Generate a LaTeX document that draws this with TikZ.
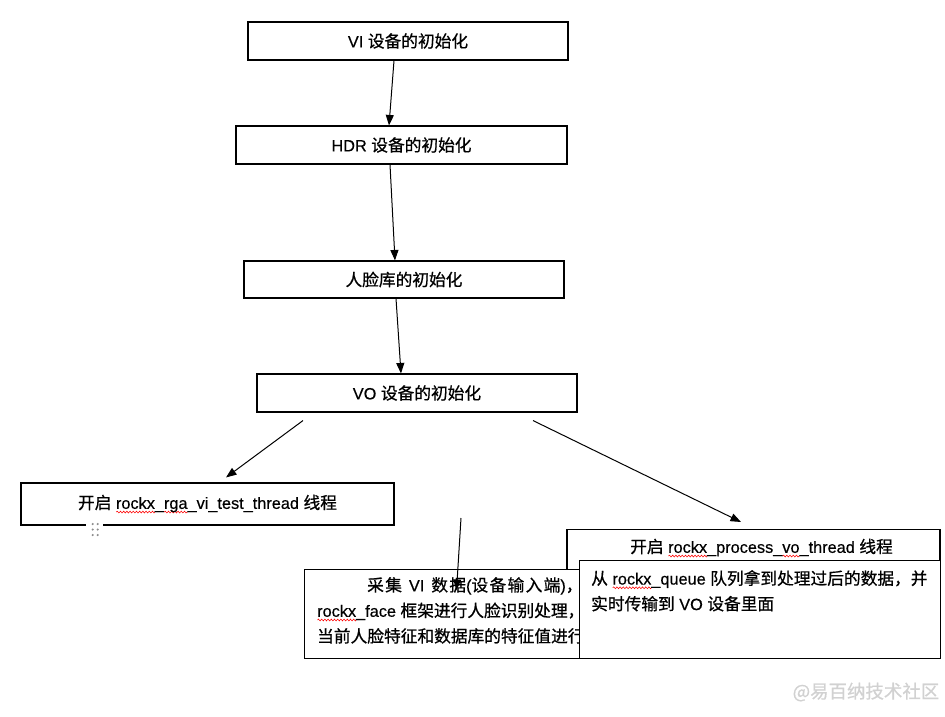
\documentclass[tikz,border=0pt]{standalone}
\usepackage{fontspec}
\setmainfont{Liberation Sans}[FakeBold=0.4]
\newfontfamily\zh{Noto Sans CJK SC}[Scale=1.025, FakeBold=0.7]
\newfontfamily\zhwide{Noto Sans CJK SC}[Scale=1.025, FakeBold=0.7, LetterSpace=8]
\usetikzlibrary{arrows.meta,positioning,calc,decorations.pathmorphing}
\newcommand\redwave[1]{\setbox0\hbox{#1}\rlap{\tikz[baseline=0pt]\draw[red, line width=0.55pt, fill=none,
  decorate, decoration={snake, amplitude=0.9pt, segment length=3.2pt}] (0pt,-3.2pt) -- (\the\wd0,-3.2pt);}\box0}
\tikzset{
  box/.style={draw=black, line width=1.1pt, fill=white, inner sep=0pt},
  txt/.style={font=\fontsize{16.3}{25.5}\selectfont, inner sep=0pt},
  arrow/.style={-{Triangle[length=10.5pt,width=8pt]}, line width=1pt},
}

\begin{document}
\begin{tikzpicture}[x=1pt,y=-1pt]
  \useasboundingbox (0,0) rectangle (945,716);
  % initialisation chain
  \node[box, txt, minimum width=320, minimum height=38] (vi) at (408,41) {VI {\zh 设备的初始化}};
  \node[box, txt, minimum width=331, minimum height=38] (hdr) at (401.5,145) {HDR {\zh 设备的初始化}};
  \node[box, txt, minimum width=320, minimum height=37] (face) at (404,279.5) {\zh 人脸库的初始化};
  \node[box, txt, minimum width=320, minimum height=38] (vo) at (417,393) {VO {\zh 设备的初始化}};
  % the two threads
  \node[box, txt, minimum width=373, minimum height=42] (rga) at (207.5,504)
    {{\zh 开启} \redwave{rockx}\_\redwave{rga}\_vi\_test\_thread {\zh 线程}};
  \node[box, minimum width=373, minimum height=110, anchor=north] (proc) at (753.5,529) {};
  \node[txt] (proctxt) at (761.5,548)
    {{\zh 开启} \redwave{rockx}\_process\_\redwave{vo}\_thread {\zh 线程}};
  \node[box, minimum width=396, minimum height=89, anchor=north west] (data) at (304,569) {};
  \node[txt, anchor=north west, align=left] (datatxt) at (317,577)
    {\hspace*{50pt}{\zhwide 采集}\hspace{7pt}VI\hspace{7pt}{\zhwide 数据}({\zhwide 设备输入端}){\zh ，}\\
     \redwave{rockx}\_face {\zh 框架进行人脸识别处理，}\\
     {\zh 当前人脸特征和数据库的特征值进行}};
  \node[box, minimum width=361, minimum height=98, anchor=north west] (queue) at (579,560) {};
  \node[txt, anchor=north west, align=left] (queuetxt) at (591,570)
    {{\zh 从} \redwave{rockx}\_queue {\zh 队列拿到处理过后的数据，并}\\
     {\zh 实时传输到} VO {\zh 设备里面}};

  % connectors
  \draw[arrow] ($(vi.south)+(-14,0)$) -- ($(hdr.north)+(-12.5,0)$);
  \draw[arrow] ($(hdr.south)+(-11.5,0)$) -- ($(face.north)+(-9,0)$);
  \draw[arrow] ($(face.south)+(-8,0)$) -- ($(vo.north)+(-16,0)$);
  \draw[arrow] ($(vo.south)+(-114,8)$) -- ($(rga.north)+(18.5,-5)$);
  \draw[arrow] ($(vo.south)+(116,8)$) -- ($(proc.north)+(-12.5,-7)$);
  \coordinate (feed) at (461,518);
  \draw[arrow] (feed) -- ($(data.north)+(-46,21)$);

  % handle under the left thread box
  \fill[white] (86,522) rectangle (103,528);
  \foreach \i in {0,1}{
    \foreach \j in {0,1,2}{
      \fill[black!45] (92.7+5*\i,524+5.5*\j) circle (1.2);
    }
  }

  \node[font=\fontsize{18}{18}\selectfont, text=black!18, inner sep=0pt] (mark) at (866,692) {\zh @易百纳技术社区};
\end{tikzpicture}
\end{document}
